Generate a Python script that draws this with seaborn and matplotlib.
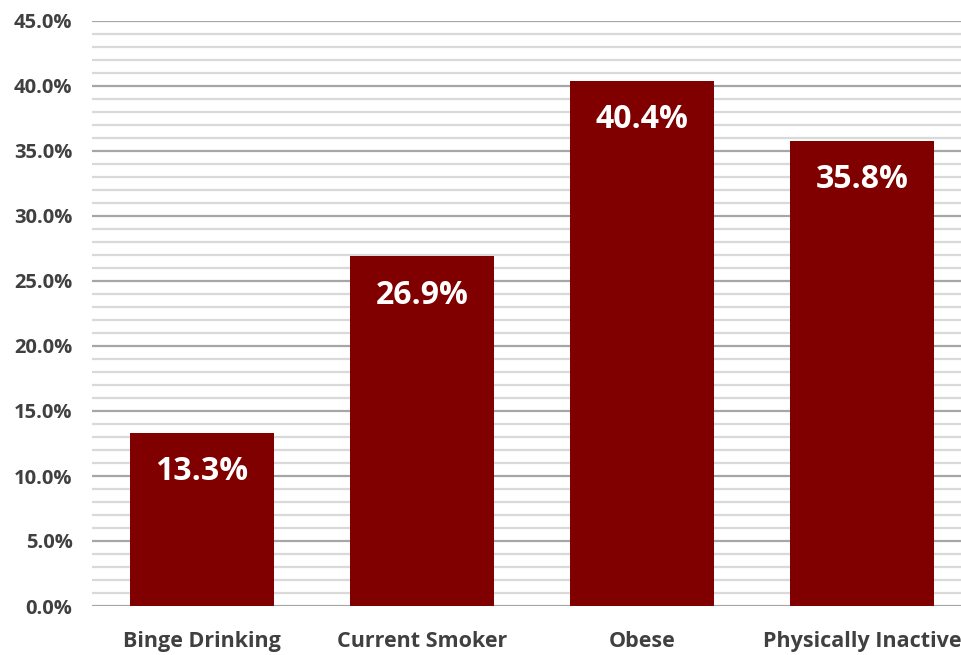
import matplotlib
matplotlib.use("Agg")
import matplotlib.pyplot as plt
import seaborn as sns
import pandas as pd
import numpy as np
from matplotlib.ticker import MultipleLocator, FuncFormatter

categories = ["Binge Drinking", "Current Smoker", "Obese", "Physically Inactive"]
values = [13.3, 26.9, 40.4, 35.8]

sns.set_theme(style="white")
plt.rcParams['font.family'] = ['Open Sans', 'DejaVu Sans']

df = pd.DataFrame({"cat": categories, "val": values})

fig = plt.figure(figsize=(9.61, 6.55), dpi=100)
ax = fig.add_axes([92/961, 49/655, 880/961, 585/655])

sns.barplot(data=df, x="cat", y="val", color="#800000", saturation=1,
            width=0.655, ax=ax, zorder=3, linewidth=0)

ax.set_ylim(0, 45)
ax.set_xlim(-0.5, 3.5)
ax.yaxis.set_major_locator(MultipleLocator(5))
ax.yaxis.set_minor_locator(MultipleLocator(1))
ax.yaxis.set_major_formatter(FuncFormatter(lambda v, p: f"{v:.1f}%"))
ax.grid(axis="y", which="major", color="#a6a6a6", linewidth=1.6, zorder=0)
ax.grid(axis="y", which="minor", color="#d9d9d9", linewidth=1.6, zorder=0)
ax.grid(axis="x", visible=False)
for s in ax.spines.values():
    s.set_visible(False)
ax.set_xlabel("")
ax.set_ylabel("")
ax.tick_params(axis="y", which="both", length=0, pad=14, labelsize=14.5, labelcolor="#404040")
ax.tick_params(axis="x", length=0, pad=18, labelsize=15.5, labelcolor="#404040")
for lab in ax.get_xticklabels() + ax.get_yticklabels():
    lab.set_fontweight("bold")

for i, v in enumerate(values):
    ax.annotate(f"{v:.1f}%", xy=(i, v), xytext=(0, -28), textcoords="offset points",
                ha="center", va="center", color="white", fontsize=23, fontweight="bold")

fig.savefig("out.png", dpi=100)
